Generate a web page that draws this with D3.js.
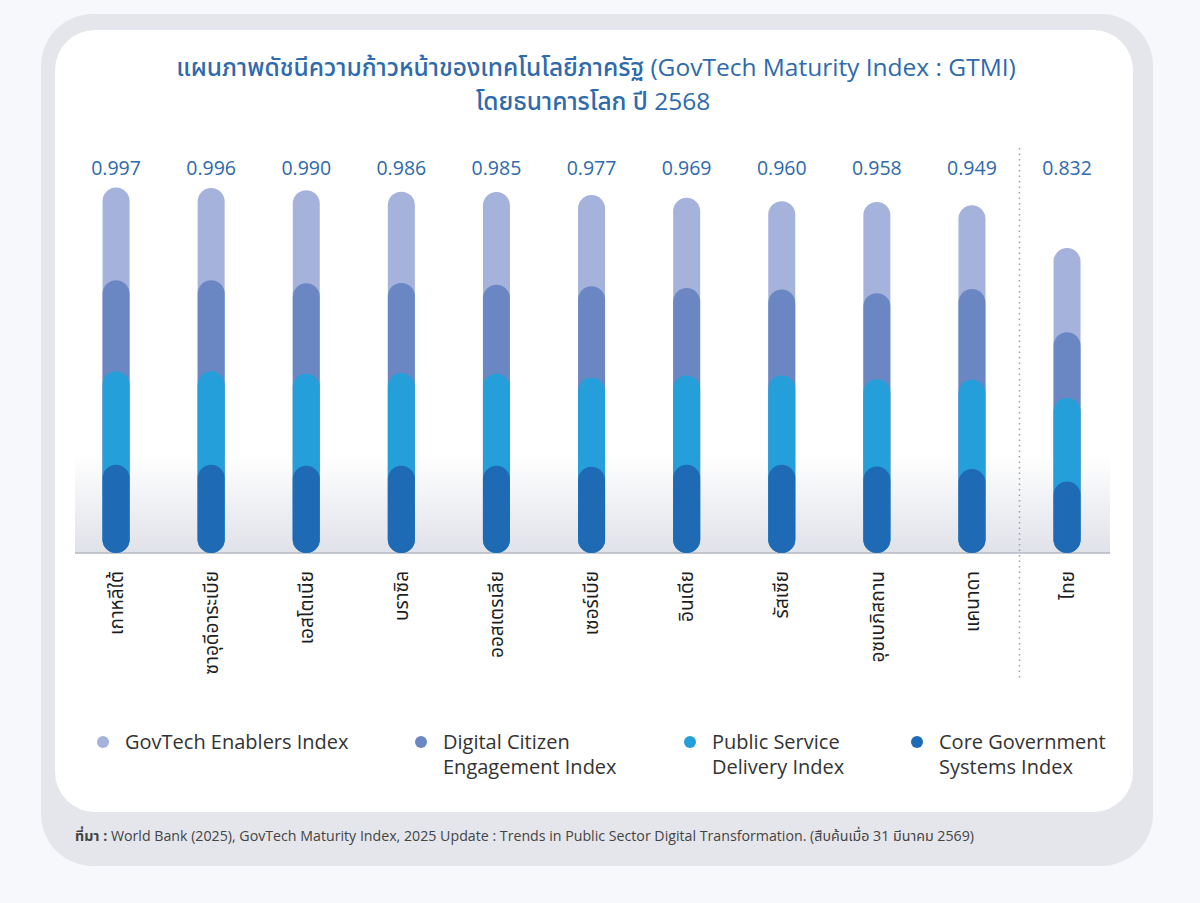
<!DOCTYPE html>
<html>
<head>
<meta charset="utf-8">
<script src="https://cdn.jsdelivr.net/npm/d3@7/dist/d3.min.js"></script>
<style>
  html, body { margin: 0; padding: 0; background: #f6f8fc; }
  svg { display: block; font-family: "Open Sans", "Noto Sans Thai", "Noto Sans", sans-serif; }
</style>
</head>
<body>
<div id="chart"></div>
<script>
// Countries (Thailand is set apart on the right)
const countries = ["เกาหลีใต้", "ซาอุดีอาระเบีย", "เอสโตเนีย", "บราซิล", "ออสเตรเลีย",
  "เซอร์เบีย", "อินเดีย", "รัสเซีย", "อุซเบกิสถาน", "แคนาดา", "ไทย"];

// GTMI total shown above each bar
const gtmi = [0.997, 0.996, 0.990, 0.986, 0.985, 0.977, 0.969, 0.960, 0.958, 0.949, 0.832];

// Stacked contribution of each sub-index
const coreGov        = [0.241, 0.241, 0.238, 0.238, 0.238, 0.235, 0.241, 0.241, 0.236, 0.229, 0.195];
const publicService  = [0.255, 0.255, 0.251, 0.253, 0.251, 0.243, 0.243, 0.243, 0.238, 0.244, 0.228];
const digitalCitizen = [0.248, 0.248, 0.247, 0.246, 0.243, 0.250, 0.239, 0.235, 0.235, 0.247, 0.179];
const govtechEnablers = [0.253, 0.252, 0.254, 0.249, 0.253, 0.249, 0.246, 0.241, 0.249, 0.229, 0.230];

const seriesKeys = ["core", "public", "digital", "enablers"];
const seriesColors = {
  enablers: "#a4b2dc",
  digital: "#6a87c4",
  public: "#249fda",
  core: "#1e6ab5"
};
const legendItems = [
  { key: "enablers", lines: ["GovTech Enablers Index"] },
  { key: "digital", lines: ["Digital Citizen", "Engagement Index"] },
  { key: "public", lines: ["Public Service", "Delivery Index"] },
  { key: "core", lines: ["Core Government", "Systems Index"] }
];

const width = 1200, height = 903;
const svg = d3.select("#chart").append("svg")
  .attr("width", width)
  .attr("height", height);

const defs = svg.append("defs");

// Frame: grey outer card and white inner card
svg.append("rect")
  .attr("x", 41).attr("y", 14).attr("width", 1112).attr("height", 852)
  .attr("rx", 52).attr("fill", "#e5e6eb");
svg.append("rect")
  .attr("x", 55).attr("y", 30).attr("width", 1078).attr("height", 782)
  .attr("rx", 40).attr("fill", "#ffffff");

// Title
const title = svg.append("text")
  .attr("text-anchor", "middle")
  .attr("fill", "#2e6aac")
  .attr("font-size", 24.5)
  .attr("font-weight", 500);
title.append("tspan").attr("x", 596).attr("y", 76)
  .text("แผนภาพดัชนีความก้าวหน้าของเทคโนโลยีภาครัฐ (GovTech Maturity Index : GTMI)");
title.append("tspan").attr("x", 593).attr("y", 110)
  .text("โดยธนาคารโลก ปี 2568");

// Scales
const x = d3.scaleBand()
  .domain(countries)
  .range([68.5, 1114.6])
  .paddingInner(0)
  .paddingOuter(0);

const y = d3.scaleLinear()
  .domain([0, 1])
  .range([553, 186.5]);

const barW = 27;

// Floor shading under the bars
const floorGrad = defs.append("linearGradient")
  .attr("id", "floor").attr("x1", 0).attr("y1", 0).attr("x2", 0).attr("y2", 1);
floorGrad.append("stop").attr("offset", "0%").attr("stop-color", "#ffffff");
floorGrad.append("stop").attr("offset", "100%").attr("stop-color", "#e0e2e9");
svg.append("rect")
  .attr("x", 75).attr("y", 455).attr("width", 1035).attr("height", y(0) - 455)
  .attr("fill", "url(#floor)");

// Baseline
svg.append("line")
  .attr("x1", 75).attr("x2", 1110)
  .attr("y1", y(0)).attr("y2", y(0))
  .attr("stroke", "#b4b7c2").attr("stroke-width", 1.5);

// Dotted divider before Thailand
const divX = (x(countries[9]) + x(countries[10]) + x.bandwidth()) / 2;
svg.append("line")
  .attr("x1", divX).attr("x2", divX)
  .attr("y1", 148).attr("y2", 678)
  .attr("stroke", "#9a9da6").attr("stroke-width", 1.5)
  .attr("stroke-dasharray", "1.5,4");

// Stack data
const rows = countries.map((c, i) => ({
  country: c,
  core: coreGov[i],
  public: publicService[i],
  digital: digitalCitizen[i],
  enablers: govtechEnablers[i]
}));
const stacked = d3.stack().keys(seriesKeys)(rows);

// Draw pills from the top layer down so lower pills overlap the ones above
const layers = svg.append("g");
stacked.slice().reverse().forEach(layer => {
  layers.append("g")
    .attr("fill", seriesColors[layer.key])
    .selectAll("rect")
    .data(layer)
    .join("rect")
    .attr("x", d => x(d.data.country) + x.bandwidth() / 2 - barW / 2)
    .attr("y", d => y(d[1]))
    .attr("width", barW)
    .attr("height", d => y(0) - y(d[1]))
    .attr("rx", barW / 2);
});

// Value labels
svg.append("g")
  .selectAll("text")
  .data(countries)
  .join("text")
  .attr("x", d => x(d) + x.bandwidth() / 2)
  .attr("y", 175)
  .attr("text-anchor", "middle")
  .attr("font-size", 19.5)
  .attr("fill", "#2e6aac")
  .text((d, i) => d3.format(".3f")(gtmi[i]));

// Country labels, rotated
svg.append("g")
  .selectAll("text")
  .data(countries)
  .join("text")
  .attr("transform", d => `translate(${x(d) + x.bandwidth() / 2},571) rotate(-90)`)
  .attr("text-anchor", "end")
  .attr("dy", "0.35em")
  .attr("font-size", 19)
  .attr("fill", "#1e1e1e")
  .text(d => d);

// Legend
const legendX = [103, 421, 690, 917];
const legend = svg.append("g");
legendItems.forEach((item, i) => {
  const g = legend.append("g").attr("transform", `translate(${legendX[i]},742)`);
  g.append("circle").attr("r", 6).attr("fill", seriesColors[item.key]);
  const t = g.append("text")
    .attr("x", 22)
    .attr("font-size", 20)
    .attr("fill", "#333");
  item.lines.forEach((line, j) => {
    t.append("tspan").attr("x", 22).attr("y", 7 + j * 25).text(line);
  });
});

// Source note
const note = svg.append("text")
  .attr("x", 75).attr("y", 841)
  .attr("font-size", 14.2)
  .attr("fill", "#444");
note.append("tspan").attr("font-weight", 700).text("ที่มา :");
note.append("tspan")
  .text("  World Bank (2025), GovTech Maturity Index, 2025 Update : Trends in Public Sector Digital Transformation. (สืบค้นเมื่อ 31 มีนาคม 2569)");
</script>
</body>
</html>
